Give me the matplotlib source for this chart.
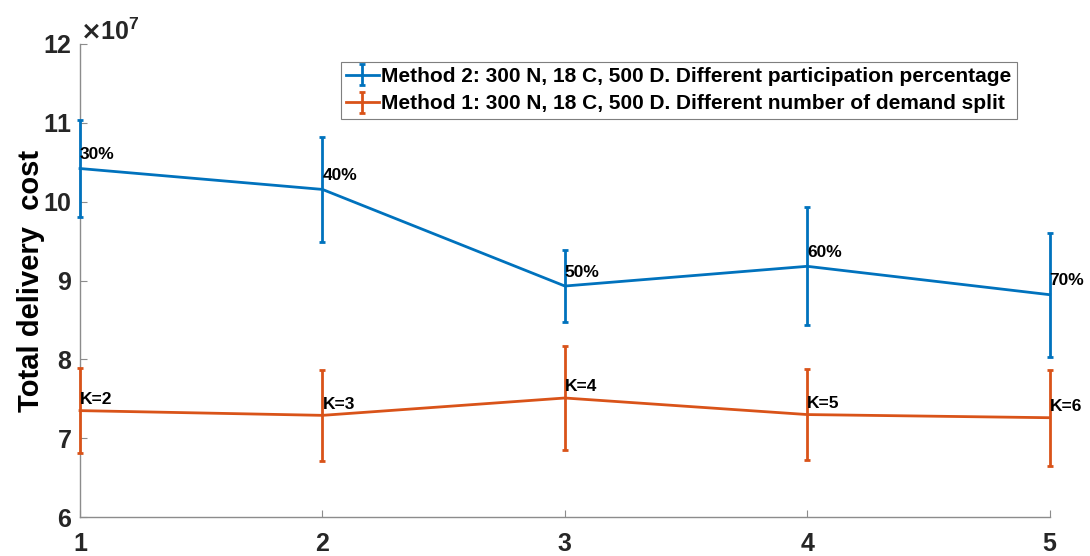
import matplotlib
matplotlib.use("Agg")
import matplotlib.pyplot as plt
from matplotlib.ticker import ScalarFormatter

plt.rcParams["font.family"] = ["Liberation Sans", "DejaVu Sans"]
plt.rcParams["font.weight"] = "bold"

# 数据 (图上以 x10^7 显示)
x = [1, 2, 3, 4, 5]
method2_cost = [10.42e7, 10.155e7, 8.93e7, 9.18e7, 8.82e7]
method2_err = [0.62e7, 0.665e7, 0.46e7, 0.75e7, 0.785e7]
method2_labels = ["30%", "40%", "50%", "60%", "70%"]

method1_cost = [7.35e7, 7.29e7, 7.51e7, 7.30e7, 7.26e7]
method1_err = [0.535e7, 0.58e7, 0.665e7, 0.58e7, 0.61e7]
method1_labels = ["K=2", "K=3", "K=4", "K=5", "K=6"]

legend_labels = [
    "Method 2: 300 N, 18 C, 500 D. Different participation percentage",
    "Method 1: 300 N, 18 C, 500 D. Different number of demand split",
]

BLUE = "#0072BD"
ORANGE = "#D95319"

fig = plt.figure(figsize=(10.9, 5.56), dpi=100)
ax = fig.add_axes([0.0734, 0.070, 0.8896, 0.851])

ax.errorbar(x, method2_cost, yerr=method2_err, color=BLUE, lw=2, elinewidth=2,
            capsize=2.5, capthick=2, label=legend_labels[0], clip_on=False, zorder=3)
ax.errorbar(x, method1_cost, yerr=method1_err, color=ORANGE, lw=2, elinewidth=2,
            capsize=2.5, capthick=2, label=legend_labels[1], clip_on=False, zorder=3)

# 数据点标注
for xi, yi, txt in zip(x, method2_cost, method2_labels):
    ax.annotate(txt, (xi, yi), xytext=(0, 10), textcoords="offset points",
                ha="left", va="center", fontsize=12.5, fontweight="bold")
for xi, yi, txt in zip(x, method1_cost, method1_labels):
    ax.annotate(txt, (xi, yi), xytext=(0, 8), textcoords="offset points",
                ha="left", va="center", fontsize=12.5, fontweight="bold")

ax.set_xlim(1, 5)
ax.set_ylim(6e7, 12e7)
ax.set_xticks(x)
ax.set_yticks([6e7, 7e7, 8e7, 9e7, 10e7, 11e7, 12e7])

fmt = ScalarFormatter(useMathText=True)
fmt.set_powerlimits((7, 7))
ax.yaxis.set_major_formatter(fmt)
ax.yaxis.get_offset_text().set_fontsize(18)
ax.yaxis.get_offset_text().set_fontweight("bold")
ax.yaxis.get_offset_text().set_color("#262626")

for side in ("top", "right"):
    ax.spines[side].set_visible(False)
for side in ("left", "bottom"):
    ax.spines[side].set_color("#8c8c8c")
    ax.spines[side].set_linewidth(1)

ax.tick_params(direction="in", length=5, width=0.8, color="#8c8c8c",
               labelsize=18, labelcolor="#262626")
ax.tick_params(axis="x", pad=11)
ax.tick_params(axis="y", pad=6)
for lbl in ax.get_xticklabels() + ax.get_yticklabels():
    lbl.set_fontweight("bold")

ax.set_ylabel("Total delivery  cost", fontsize=21, fontweight="bold", labelpad=-2)

leg = ax.legend(loc="upper right", bbox_to_anchor=(0.966, 0.962), fontsize=15,
                frameon=True, fancybox=False, edgecolor="#7f7f7f", framealpha=1,
                borderpad=0.25, labelspacing=0.4, handlelength=1.6,
                handletextpad=0.1, borderaxespad=0)
leg.get_frame().set_linewidth(0.8)
for t in leg.get_texts():
    t.set_fontweight("bold")

fig.savefig("out.png", dpi=100)
